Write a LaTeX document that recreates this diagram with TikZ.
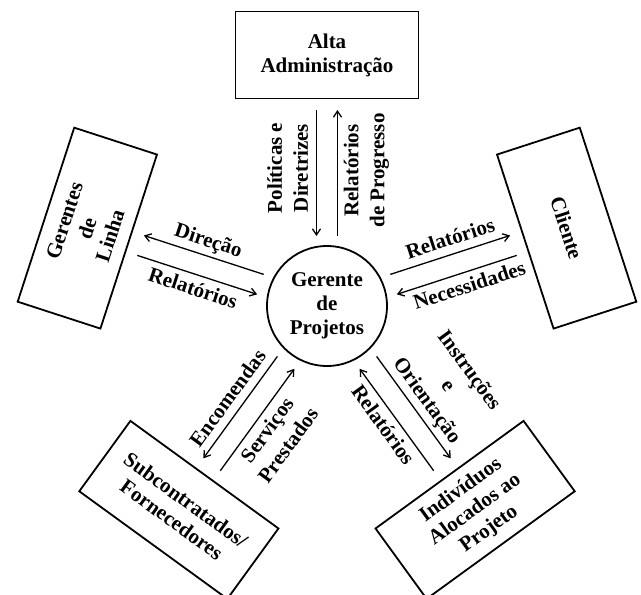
\documentclass[tikz,border=0pt]{standalone}
\usepackage{fontspec}
\setmainfont{Liberation Serif}
\usetikzlibrary{calc,arrows.meta}
\tikzset{
  line/.style    = {-{Straight Barb[length=6pt,width=8pt]}, line width=1.3pt},
  txt/.style     = {font=\bfseries\fontsize{21}{24}\selectfont},
  unitbox/.style = {txt, draw, line width=1.8pt, align=center, inner sep=0pt,
                    minimum width=183pt, minimum height=87pt},
  hub/.style     = {txt, draw, circle, line width=1.8pt, align=center, inner sep=0pt,
                    minimum size=120pt},
  lbl/.style     = {font=\bfseries\fontsize{21}{26}\selectfont, align=center,
                    inner sep=6pt, text depth=0.25em},
}

\begin{document}
\begin{tikzpicture}
  \useasboundingbox (-327pt,-289pt) rectangle (314pt,306pt);

  % centre and the five parties
  \node[hub] (gerente) at (0,0) {Gerente\\de\\Projetos};
  \node[unitbox] (alta) at (90:251pt) {Alta\\Administração};
  \node[unitbox, rotate=72] (linha) at (162:252pt) {Gerentes\\de\\Linha};
  \node[unitbox, rotate=-72] (cliente) at (18:252pt) {Cliente};
  \node[unitbox, rotate=-36] (subcontr) at (234:252pt) {Subcontratados/\\Fornecedores};
  \node[unitbox, rotate=36] (individuos) at (306:252pt) {Indivíduos\\Alocados ao\\Projeto};

  % Alta Administracao
  \coordinate (alta-i1) at ($(gerente)+(90:70pt)+(180:10.5pt)$);
  \coordinate (alta-o1) at ($(gerente)+(90:196pt)+(180:10.5pt)$);
  \coordinate (alta-i2) at ($(gerente)+(90:70pt)+(0:10.5pt)$);
  \coordinate (alta-o2) at ($(gerente)+(90:196pt)+(0:10.5pt)$);
  \draw[line] (alta-o1) -- (alta-i1);
  \draw[line] (alta-i2) -- (alta-o2);
  \node[lbl, rotate=90, anchor=south] at ($(alta-i1)!0.54!(alta-o1)$) {Políticas e\\Diretrizes};
  \node[lbl, rotate=90, anchor=north] at ($(alta-i2)!0.52!(alta-o2)$) {Relatórios\\de Progresso};

  % Gerentes de Linha
  \coordinate (linha-i1) at ($(gerente)+(162:70pt)+(252:10.5pt)$);
  \coordinate (linha-o1) at ($(gerente)+(162:196pt)+(252:10.5pt)$);
  \coordinate (linha-i2) at ($(gerente)+(162:70pt)+(72:10.5pt)$);
  \coordinate (linha-o2) at ($(gerente)+(162:196pt)+(72:10.5pt)$);
  \draw[line] (linha-o1) -- (linha-i1);
  \draw[line] (linha-i2) -- (linha-o2);
  \node[lbl, rotate=-18, anchor=north] at ($(linha-i1)!0.5!(linha-o1)$) {Relatórios};
  \node[lbl, rotate=-18, anchor=south] at ($(linha-i2)!0.5!(linha-o2)$) {Direção};

  % Cliente
  \coordinate (cliente-i1) at ($(gerente)+(18:70pt)+(108:10.5pt)$);
  \coordinate (cliente-o1) at ($(gerente)+(18:196pt)+(108:10.5pt)$);
  \coordinate (cliente-i2) at ($(gerente)+(18:70pt)+(-72:10.5pt)$);
  \coordinate (cliente-o2) at ($(gerente)+(18:196pt)+(-72:10.5pt)$);
  \draw[line] (cliente-i1) -- (cliente-o1);
  \draw[line] (cliente-o2) -- (cliente-i2);
  \node[lbl, rotate=18, anchor=south] at ($(cliente-i1)!0.54!(cliente-o1)$) {Relatórios};
  \node[lbl, rotate=18, anchor=north] at ($(cliente-i2)!0.57!(cliente-o2)$) {Necessidades};

  % Subcontratados / Fornecedores
  \coordinate (subcontr-i1) at ($(gerente)+(234:70pt)+(324:10.5pt)$);
  \coordinate (subcontr-o1) at ($(gerente)+(234:196pt)+(324:10.5pt)$);
  \coordinate (subcontr-i2) at ($(gerente)+(234:70pt)+(144:10.5pt)$);
  \coordinate (subcontr-o2) at ($(gerente)+(234:196pt)+(144:10.5pt)$);
  \draw[line] (subcontr-o1) -- (subcontr-i1);
  \draw[line] (subcontr-i2) -- (subcontr-o2);
  \node[lbl, rotate=54, anchor=north] at ($(subcontr-i1)!0.52!(subcontr-o1)$) {Serviços\\Prestados};
  \node[lbl, rotate=54, anchor=south] at ($(subcontr-i2)!0.5!(subcontr-o2)$) {Encomendas};

  % Individuos Alocados ao Projeto
  \coordinate (individuos-i1) at ($(gerente)+(306:70pt)+(36:10.5pt)$);
  \coordinate (individuos-o1) at ($(gerente)+(306:196pt)+(36:10.5pt)$);
  \coordinate (individuos-i2) at ($(gerente)+(306:70pt)+(216:10.5pt)$);
  \coordinate (individuos-o2) at ($(gerente)+(306:196pt)+(216:10.5pt)$);
  \draw[line] (individuos-i1) -- (individuos-o1);
  \draw[line] (individuos-o2) -- (individuos-i2);
  \node[lbl, rotate=-54, anchor=south] at ($(individuos-i1)!0.52!(individuos-o1)$) {Instruções\\e\\Orientação};
  \node[lbl, rotate=-54, anchor=north] at ($(individuos-i2)!0.47!(individuos-o2)$) {Relatórios};
\end{tikzpicture}
\end{document}
